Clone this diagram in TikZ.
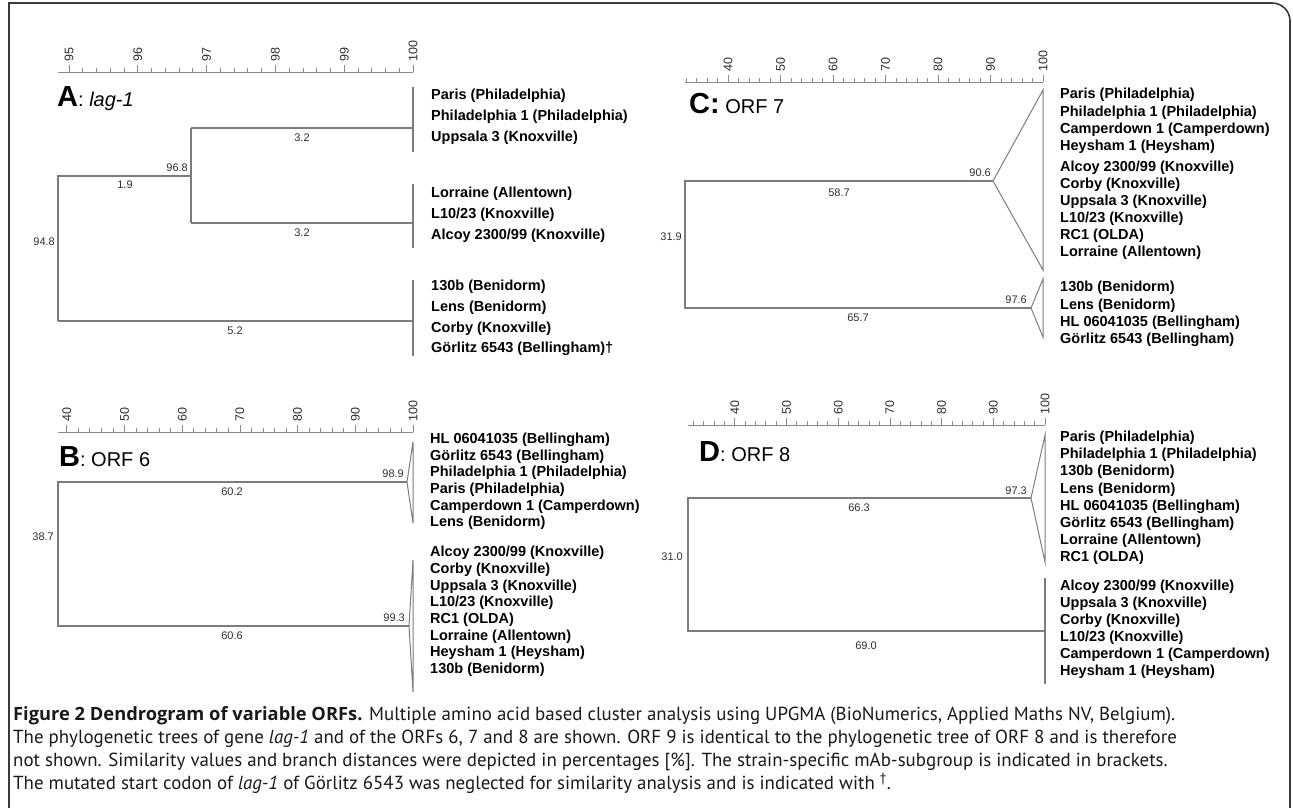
\documentclass[tikz,border=0pt]{standalone}
\usepackage{fontspec}
\setmainfont{Liberation Sans}
\newfontfamily\capfont{PT Sans}
\newfontfamily\capboldfont{Open Sans}
\usetikzlibrary{calc}
\definecolor{treegray}{HTML}{7C7C7C}
\definecolor{tickgray}{HTML}{8A8A8A}
\definecolor{txtdark}{HTML}{2E2E2E}
\definecolor{framecol}{HTML}{3A3A3A}
\begin{document}
\begin{tikzpicture}[x=1pt,y=-1pt,
  branch/.style={draw=treegray, line width=1.3pt, line join=miter},
  tri/.style={draw=treegray, line width=1pt},
  axisline/.style={draw=tickgray, line width=1pt},
  minortick/.style={draw=tickgray, line width=0.8pt},
  leaf/.style={anchor=west, font=\fontsize{14.5}{16}\selectfont\bfseries, text=black, inner sep=0pt},
  val/.style={font=\fontsize{11}{12}\selectfont, text=txtdark, inner sep=0pt},
  ticklab/.style={rotate=90, anchor=west, font=\fontsize{12.5}{13}\selectfont, text=txtdark, inner sep=0pt},
  paneltitle/.style={anchor=base west, inner sep=0pt, text=black},
  caption/.style={anchor=base west, inner sep=0pt, font=\capfont\fontsize{18.9}{21}\selectfont, text=black!90}]
\useasboundingbox (0,0) rectangle (1293,807);
% frame
\coordinate (fbl) at (9,810);
\coordinate (ftl) at (9,3);
\coordinate (ftr) at (1272,3);
\coordinate (frt) at (1290,21);
\coordinate (fbr) at (1290,810);
\draw[draw=framecol, line width=1.6pt] (fbl) -- (ftl) -- (ftr) .. controls (1282,3) and (1290,11) .. (frt) -- (fbr);

% ================= PANEL A =================
\draw[axisline] (58,72) -- (413,72);
\foreach \i in {0,...,25} { \draw[minortick] ({413-\i*13.76},72) -- ({413-\i*13.76},68); }
\foreach \j in {0,...,5} {
  \pgfmathtruncatemacro\lab{100-\j}
  \draw[minortick] ({413-\j*68.8},72) -- ({413-\j*68.8},65);
  \node[ticklab] (A-t\j) at ({413-\j*68.8},62) {\lab};
}
\node[paneltitle] (A-title) at (57,106) {\fontsize{29}{29}\selectfont\bfseries A\fontsize{20}{20}\selectfont\mdseries: \itshape lag-1};
\coordinate (A-rt) at (58,176);
\coordinate (A-rb) at (58,321);
\coordinate (A-n) at (191,176);
\coordinate (A-n1) at (191,128);
\coordinate (A-n2) at (191,223);
\coordinate (A-g1) at (413,128);
\coordinate (A-g2) at (413,223);
\coordinate (A-g3) at (413,321);
\draw[branch] (A-rb) -- (A-rt) -- (A-n);
\draw[branch] (A-n1) -- (A-n2);
\draw[branch] (A-n1) -- (A-g1);
\draw[branch] (A-n2) -- (A-g2);
\draw[branch] (A-rb) -- (A-g3);
\draw[branch] (413,87) -- (413,152);
\draw[branch] (413,184) -- (413,248);
\draw[branch] (413,280) -- (413,356);
\node[val, anchor=east] (A-v968) at (188,168) {96.8};
\node[val] (A-v19) at (125,185) {1.9};
\node[val] (A-v32a) at (302,138) {3.2};
\node[val] (A-v32b) at (302,233) {3.2};
\node[val, anchor=east] (A-v948) at (55,242) {94.8};
\node[val] (A-v52) at (235,331) {5.2};
\foreach \t [count=\k] in {{Paris (Philadelphia)},{Philadelphia 1 (Philadelphia)},{Uppsala 3 (Knoxville)}}
  \node[leaf] (A-a\k) at (431,{96+(\k-1)*20.7}) {\t};
\foreach \t [count=\k] in {{Lorraine (Allentown)},{L10/23 (Knoxville)},{Alcoy 2300/99 (Knoxville)}}
  \node[leaf] (A-b\k) at (431,{194+(\k-1)*20.7}) {\t};
\foreach \t [count=\k] in {{130b (Benidorm)},{Lens (Benidorm)},{Corby (Knoxville)},{Görlitz 6543 (Bellingham)†}}
  \node[leaf] (A-c\k) at (431,{287+(\k-1)*20.7}) {\t};

% ================= PANEL B =================
\draw[axisline] (58,432) -- (413,432);
\foreach \i in {0,...,30} { \draw[minortick] ({413-\i*11.54},432) -- ({413-\i*11.54},428); }
\foreach \j in {0,...,6} {
  \pgfmathtruncatemacro\lab{100-10*\j}
  \draw[minortick] ({413-\j*57.7},432) -- ({413-\j*57.7},425);
  \node[ticklab] (B-t\j) at ({413-\j*57.7},422) {\lab};
}
\node[paneltitle] (B-title) at (59,466) {\fontsize{29}{29}\selectfont\bfseries B\fontsize{20}{20}\selectfont\mdseries: ORF 6};
\coordinate (B-rt) at (58,482);
\coordinate (B-rb) at (58,626);
\coordinate (B-n1) at (407,482);
\coordinate (B-n2) at (409,626);
\draw[branch] (B-n1) -- (B-rt) -- (B-rb) -- (B-n2);
\coordinate (B-t1a) at (413,442);
\coordinate (B-t1b) at (413,523);
\coordinate (B-t2a) at (413,560);
\coordinate (B-t2b) at (413,692);
\draw[tri] (B-t1a) -- (B-n1) -- (B-t1b) -- cycle;
\draw[tri] (B-t2a) -- (B-n2) -- (B-t2b) -- cycle;
\node[val, anchor=east] (B-v989) at (404,474) {98.9};
\node[val, anchor=east] (B-v993) at (405,618) {99.3};
\node[val] (B-v602) at (232,492) {60.2};
\node[val] (B-v606) at (232,636) {60.6};
\node[val, anchor=east] (B-v387) at (54,537) {38.7};
\foreach \t [count=\k] in {{HL 06041035 (Bellingham)},{Görlitz 6543 (Bellingham)},{Philadelphia 1 (Philadelphia)},{Paris (Philadelphia)},{Camperdown 1 (Camperdown)},{Lens (Benidorm)}}
  \node[leaf] (B-a\k) at (430,{440+(\k-1)*16.6}) {\t};
\foreach \t [count=\k] in {{Alcoy 2300/99 (Knoxville)},{Corby (Knoxville)},{Uppsala 3 (Knoxville)},{L10/23 (Knoxville)},{RC1 (OLDA)},{Lorraine (Allentown)},{Heysham 1 (Heysham)},{130b (Benidorm)}}
  \node[leaf] (B-b\k) at (430,{553+(\k-1)*16.7}) {\t};

% ================= PANEL C =================
\draw[axisline] (685,82) -- (1043,82);
\foreach \i in {0,...,34} { \draw[minortick] ({1043-\i*10.5},82) -- ({1043-\i*10.5},78); }
\foreach \j in {0,...,6} {
  \pgfmathtruncatemacro\lab{100-10*\j}
  \draw[minortick] ({1043-\j*52.5},82) -- ({1043-\j*52.5},75);
  \node[ticklab] (C-t\j) at ({1043-\j*52.5},72) {\lab};
}
\node[paneltitle] (C-title) at (689,113) {\fontsize{29}{29}\selectfont\bfseries C:\fontsize{20}{20}\selectfont\mdseries{} ORF 7};
\coordinate (C-rt) at (685,181);
\coordinate (C-rb) at (685,308);
\coordinate (C-n1) at (993,181);
\coordinate (C-n2) at (1031,308);
\draw[branch] (C-n1) -- (C-rt) -- (C-rb) -- (C-n2);
\coordinate (C-t1a) at (1043,90);
\coordinate (C-t1b) at (1043,270);
\coordinate (C-t2a) at (1043,279);
\coordinate (C-t2b) at (1043,337);
\draw[tri] (C-t1a) -- (C-n1) -- (C-t1b) -- cycle;
\draw[tri] (C-t2a) -- (C-n2) -- (C-t2b) -- cycle;
\node[val, anchor=east] (C-v906) at (991,173) {90.6};
\node[val, anchor=east] (C-v976) at (1027,300) {97.6};
\node[val] (C-v587) at (839,193) {58.7};
\node[val] (C-v657) at (858,318) {65.7};
\node[val, anchor=east] (C-v319) at (682,237) {31.9};
\foreach \t [count=\k] in {{Paris (Philadelphia)},{Philadelphia 1 (Philadelphia)},{Camperdown 1 (Camperdown)},{Heysham 1 (Heysham)}}
  \node[leaf] (C-a\k) at (1060,{95+(\k-1)*17.4}) {\t};
\foreach \t [count=\k] in {{Alcoy 2300/99 (Knoxville)},{Corby (Knoxville)},{Uppsala 3 (Knoxville)},{L10/23 (Knoxville)},{RC1 (OLDA)},{Lorraine (Allentown)}}
  \node[leaf] (C-b\k) at (1060,{168+(\k-1)*17}) {\t};
\foreach \t [count=\k] in {{130b (Benidorm)},{Lens (Benidorm)},{HL 06041035 (Bellingham)},{Görlitz 6543 (Bellingham)}}
  \node[leaf] (C-c\k) at (1060,{288+(\k-1)*17.4}) {\t};

% ================= PANEL D =================
\draw[axisline] (688,425) -- (1045,425);
\foreach \i in {0,...,34} { \draw[minortick] ({1045-\i*10.34},425) -- ({1045-\i*10.34},421); }
\foreach \j in {0,...,6} {
  \pgfmathtruncatemacro\lab{100-10*\j}
  \draw[minortick] ({1045-\j*51.7},425) -- ({1045-\j*51.7},418);
  \node[ticklab] (D-t\j) at ({1045-\j*51.7},415) {\lab};
}
\node[paneltitle] (D-title) at (699,461) {\fontsize{29}{29}\selectfont\bfseries D\fontsize{20}{20}\selectfont\mdseries: ORF 8};
\coordinate (D-rt) at (688,498);
\coordinate (D-rb) at (688,631);
\coordinate (D-n1) at (1031,498);
\coordinate (D-g2) at (1045,631);
\draw[branch] (D-n1) -- (D-rt) -- (D-rb) -- (D-g2);
\coordinate (D-t1a) at (1045,435);
\coordinate (D-t1b) at (1045,562);
\draw[tri] (D-t1a) -- (D-n1) -- (D-t1b) -- cycle;
\draw[branch] (1045,578) -- (1045,684);
\node[val, anchor=east] (D-v973) at (1027,491) {97.3};
\node[val] (D-v663) at (859,508) {66.3};
\node[val] (D-v690) at (866,646) {69.0};
\node[val, anchor=east] (D-v310) at (683,557) {31.0};
\foreach \t [count=\k] in {{Paris (Philadelphia)},{Philadelphia 1 (Philadelphia)},{130b (Benidorm)},{Lens (Benidorm)},{HL 06041035 (Bellingham)},{Görlitz 6543 (Bellingham)},{Lorraine (Allentown)},{RC1 (OLDA)}}
  \node[leaf] (D-a\k) at (1060,{438+(\k-1)*17.1}) {\t};
\foreach \t [count=\k] in {{Alcoy 2300/99 (Knoxville)},{Uppsala 3 (Knoxville)},{Corby (Knoxville)},{L10/23 (Knoxville)},{Camperdown 1 (Camperdown)},{Heysham 1 (Heysham)}}
  \node[leaf] (D-b\k) at (1060,{587+(\k-1)*17}) {\t};

% ================= CAPTION =================
\node[caption] (cap1) at (13,720) {{\capboldfont\fontsize{18.3}{21}\selectfont\bfseries Figure 2 Dendrogram of variable ORFs.} Multiple amino acid based cluster analysis using UPGMA (BioNumerics, Applied Maths NV, Belgium).};
\node[caption] (cap2) at (13,743) {The phylogenetic trees of gene \textit{lag-1} and of the ORFs 6, 7 and 8 are shown. ORF 9 is identical to the phylogenetic tree of ORF 8 and is therefore};
\node[caption] (cap3) at (13,766) {not shown. Similarity values and branch distances were depicted in percentages [\%]. The strain-specific mAb-subgroup is indicated in brackets.};
\node[caption] (cap4) at (13,789) {The mutated start codon of \textit{lag-1} of Görlitz 6543 was neglected for similarity analysis and is indicated with \textsuperscript{†}.};
\end{tikzpicture}
\end{document}
